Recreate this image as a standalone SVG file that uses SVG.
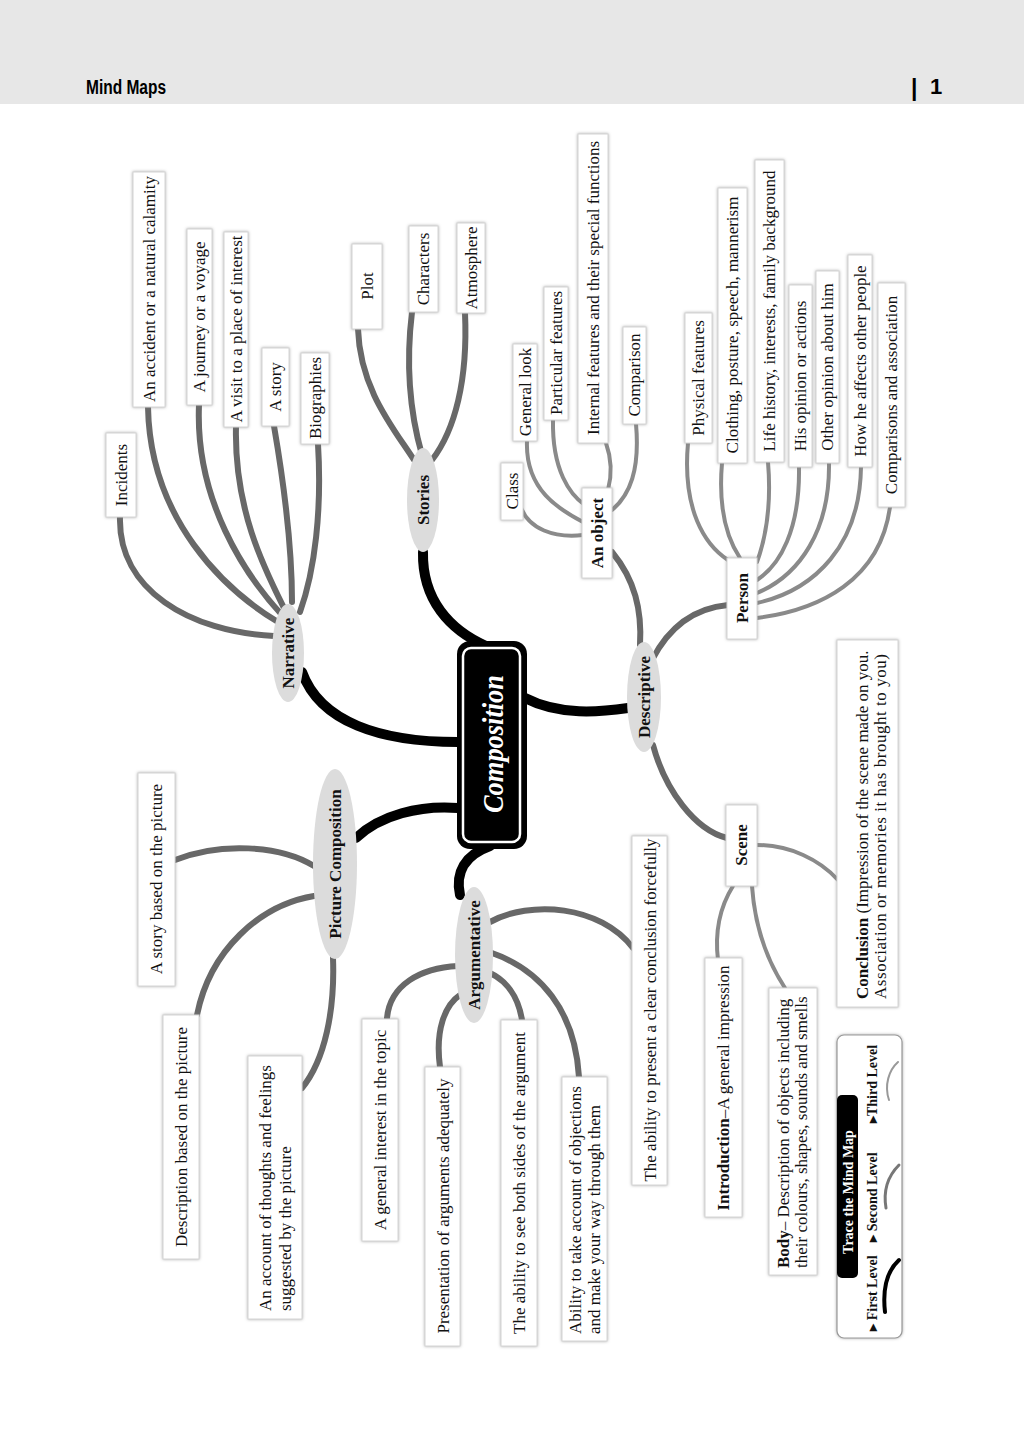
<svg xmlns="http://www.w3.org/2000/svg" width="1024" height="1440" viewBox="0 0 1024 1440">
<defs>
<filter id="sh" x="-20%" y="-10%" width="140%" height="120%">
<feDropShadow dx="0" dy="0" stdDeviation="1.6" flood-color="#888" flood-opacity="0.7"/>
</filter>
</defs>
<style>
.box{fill:#fff;stroke:#d4d4d4;stroke-width:1;filter:url(#sh)}
.ell{fill:#dcdcdc}
.t{font-family:"Liberation Serif","Times New Roman",serif;font-size:17px;fill:#111;dominant-baseline:central;text-anchor:middle}
.ts{font-family:"Liberation Serif","Times New Roman",serif;font-size:17px;fill:#111;dominant-baseline:central;text-anchor:start}
.b{font-weight:bold}
.c1{fill:none;stroke:#000;stroke-width:10;stroke-linecap:round}
.c2{fill:none;stroke:#686868;stroke-width:6;stroke-linecap:round}
.c3{fill:none;stroke:#8a8a8a;stroke-width:4;stroke-linecap:round}
.lg{font-family:"Liberation Serif","Times New Roman",serif;font-size:14px;font-weight:bold;fill:#111;dominant-baseline:central;text-anchor:middle}
</style>
<rect x="0" y="0" width="1024" height="104" fill="#e7e7e7"/>
<text x="86" y="94" font-family="Liberation Sans, Arial, sans-serif" font-size="20" font-weight="bold" textLength="80" lengthAdjust="spacingAndGlyphs">Mind Maps</text>
<text x="911" y="96" font-family="Liberation Sans, Arial, sans-serif" font-size="23" font-weight="bold">|</text>
<text x="930" y="94" font-family="Liberation Sans, Arial, sans-serif" font-size="22" font-weight="bold">1</text>

<g id="connectors">
<path class="c1" d="M302,672 C320,722 380,742 458,742"/>
<path class="c1" d="M423,552 C422,600 450,630 486,646"/>
<path class="c1" d="M525,698 C560,716 600,712 628,708"/>
<path class="c1" d="M458,808 C420,805 380,815 356,838"/>
<path class="c1" d="M490,846 C465,855 455,872 460,895"/>
<path class="c2" d="M120,517 C118,590 190,632 274,636"/>
<path class="c2" d="M148,407 C150,520 225,590 278,622"/>
<path class="c2" d="M199,405 C195,500 245,575 282,615"/>
<path class="c2" d="M236,427 C234,510 265,570 285,610"/>
<path class="c2" d="M274,426 C285,490 292,545 292,602"/>
<path class="c2" d="M318,444 C322,510 315,570 300,612"/>
<path class="c2" d="M358,329 C360,390 395,430 414,460"/>
<path class="c2" d="M412,312 C405,370 412,420 422,455"/>
<path class="c2" d="M465,313 C468,380 455,430 432,460"/>
<path class="c2" d="M612,552 C635,580 642,610 640,645"/>
<path class="c2" d="M652,660 C670,625 695,608 728,605"/>
<path class="c2" d="M653,745 C665,790 695,830 727,838"/>
<path class="c2" d="M175,860 C220,842 280,845 314,866"/>
<path class="c2" d="M197,1015 C210,950 260,905 314,896"/>
<path class="c2" d="M302,1088 C325,1060 335,1010 333,958"/>
<path class="c2" d="M387,1018 C390,985 420,968 458,966"/>
<path class="c2" d="M440,1067 C435,1030 445,1005 460,995"/>
<path class="c2" d="M522,1020 C518,995 505,980 490,973"/>
<path class="c2" d="M579,1077 C575,1010 540,970 492,953"/>
<path class="c2" d="M490,922 C530,900 600,905 633,948"/>
<path class="c3" d="M520,505 C528,530 555,538 583,535"/>
<path class="c3" d="M527,441 C525,490 560,510 583,522"/>
<path class="c3" d="M553,420 C552,470 570,495 585,505"/>
<path class="c3" d="M606,443 C612,460 612,475 608,490"/>
<path class="c3" d="M636,424 C640,470 630,495 612,510"/>
<path class="c3" d="M688,443 C682,510 705,545 728,560"/>
<path class="c3" d="M722,463 C718,510 728,540 740,558"/>
<path class="c3" d="M768,462 C772,510 765,540 757,562"/>
<path class="c3" d="M799,467 C800,530 780,565 757,580"/>
<path class="c3" d="M829,463 C830,530 800,575 757,593"/>
<path class="c3" d="M861,467 C860,545 815,590 757,603"/>
<path class="c3" d="M890,507 C880,580 820,610 757,618"/>
<path class="c3" d="M757,845 C790,845 820,860 838,880"/>
<path class="c3" d="M733,886 C718,910 715,935 718,960"/>
<path class="c3" d="M752,886 C755,930 770,965 785,988"/>
</g>

<g id="composition">
<rect x="457" y="641" width="70" height="208" rx="13" fill="#000"/>
<rect x="463" y="648" width="57" height="194" rx="8" fill="#000" stroke="#fff" stroke-width="2.5"/>
<text transform="translate(492,744) rotate(-90)" font-family="Liberation Serif, serif" font-size="30" font-style="italic" font-weight="bold" fill="#fff" text-anchor="middle" dominant-baseline="central" textLength="138" lengthAdjust="spacingAndGlyphs">Composition</text>
</g>

<g id="narrative"><ellipse class="ell" cx="288" cy="653" rx="16" ry="49"/><text class="t b" transform="translate(288,653) rotate(-90)">Narrative</text></g>
<g id="incidents"><rect class="box" x="106" y="433" width="30" height="84"/><text class="t" transform="translate(121,475) rotate(-90)">Incidents</text></g>
<g id="accident"><rect class="box" x="133" y="172" width="32" height="235"/><text class="t" transform="translate(149,289) rotate(-90)">An accident or a natural calamity</text></g>
<g id="journey"><rect class="box" x="187" y="229" width="25" height="176"/><text class="t" transform="translate(199,317) rotate(-90)">A journey or a voyage</text></g>
<g id="visit"><rect class="box" x="224" y="232" width="24" height="195"/><text class="t" transform="translate(236,329) rotate(-90)">A visit to a place of interest</text></g>
<g id="astory"><rect class="box" x="262" y="348" width="27" height="78"/><text class="t" transform="translate(275,387) rotate(-90)">A story</text></g>
<g id="biographies"><rect class="box" x="301" y="353" width="28" height="91"/><text class="t" transform="translate(315,398) rotate(-90)">Biographies</text></g>

<g id="stories"><ellipse class="ell" cx="423" cy="500" rx="16" ry="52"/><text class="t b" transform="translate(423,500) rotate(-90)">Stories</text></g>
<g id="plot"><rect class="box" x="352" y="244" width="30" height="85"/><text class="t" transform="translate(367,286) rotate(-90)">Plot</text></g>
<g id="characters"><rect class="box" x="409" y="226" width="29" height="86"/><text class="t" transform="translate(423,269) rotate(-90)">Characters</text></g>
<g id="atmosphere"><rect class="box" x="457" y="223" width="28" height="90"/><text class="t" transform="translate(471,268) rotate(-90)">Atmosphere</text></g>

<g id="descriptive"><ellipse class="ell" cx="644" cy="697" rx="17" ry="55"/><text class="t b" font-size="18" transform="translate(644,697) rotate(-90)">Descriptive</text></g>
<g id="anobject"><rect class="box" x="582" y="488" width="30" height="90"/><text class="t b" font-size="18" transform="translate(597,533) rotate(-90)">An object</text></g>
<g id="class"><rect class="box" x="501" y="463" width="22" height="57"/><text class="t" transform="translate(512,491) rotate(-90)">Class</text></g>
<g id="generallook"><rect class="box" x="513" y="344" width="24" height="97"/><text class="t" transform="translate(525,392) rotate(-90)">General look</text></g>
<g id="particular"><rect class="box" x="544" y="287" width="24" height="133"/><text class="t" transform="translate(556,353) rotate(-90)">Particular features</text></g>
<g id="internal"><rect class="box" x="578" y="134" width="30" height="309"/><text class="t" transform="translate(593,288) rotate(-90)">Internal features and their special functions</text></g>
<g id="comparison"><rect class="box" x="623" y="327" width="23" height="97"/><text class="t" transform="translate(634,375) rotate(-90)">Comparison</text></g>

<g id="person"><rect class="box" x="727" y="558" width="30" height="81"/><text class="t b" transform="translate(742,598) rotate(-90)">Person</text></g>
<g id="physical"><rect class="box" x="685" y="313" width="27" height="130"/><text class="t" transform="translate(698,378) rotate(-90)">Physical  features</text></g>
<g id="clothing"><rect class="box" x="718" y="188" width="29" height="275"/><text class="t" transform="translate(732,325) rotate(-90)">Clothing, posture, speech, mannerism</text></g>
<g id="life"><rect class="box" x="755" y="160" width="29" height="302"/><text class="t" transform="translate(769,311) rotate(-90)">Life  history, interests, family  background</text></g>
<g id="hisopinion"><rect class="box" x="789" y="285" width="23" height="182"/><text class="t" transform="translate(800,376) rotate(-90)">His  opinion  or actions</text></g>
<g id="otheropinion"><rect class="box" x="816" y="271" width="23" height="192"/><text class="t" transform="translate(827,367) rotate(-90)">Other opinion about  him</text></g>
<g id="howhe"><rect class="box" x="848" y="255" width="24" height="212"/><text class="t" transform="translate(860,361) rotate(-90)">How he affects other people</text></g>
<g id="comparisons"><rect class="box" x="878" y="283" width="27" height="224"/><text class="t" transform="translate(891,395) rotate(-90)">Comparisons and association</text></g>

<g id="scene"><rect class="box" x="726" y="805" width="31" height="81"/><text class="t b" transform="translate(741,845) rotate(-90)">Scene</text></g>
<g id="conclusion"><rect class="box" x="837" y="640" width="61" height="367"/>
<text class="ts" transform="translate(862,999) rotate(-90)"><tspan class="b">Conclusion</tspan> (Impression of the scene made on you.</text>
<text class="ts" transform="translate(880,999) rotate(-90)" textLength="345" lengthAdjust="spacing">Association or memories it has brought to you)</text></g>
<g id="introduction"><rect class="box" x="705" y="958" width="37" height="259"/><text class="t" transform="translate(723,1088) rotate(-90)"><tspan class="b">Introduction</tspan>–A general impression</text></g>
<g id="body"><rect class="box" x="769" y="988" width="48" height="287"/>
<text class="ts" transform="translate(783,1268) rotate(-90)"><tspan class="b">Body</tspan>– Description of objects including</text>
<text class="ts" transform="translate(801,1268) rotate(-90)">their colours, shapes, sounds and smells</text></g>

<g id="picturecomposition"><ellipse class="ell" cx="335" cy="864" rx="22" ry="95"/><text class="t b" font-size="18" transform="translate(335,864) rotate(-90)">Picture Composition</text></g>
<g id="storypicture"><rect class="box" x="138" y="773" width="37" height="213"/><text class="t" transform="translate(156,879) rotate(-90)">A story based on the picture</text></g>
<g id="descpicture"><rect class="box" x="163" y="1015" width="36" height="244"/><text class="t" transform="translate(181,1137) rotate(-90)">Description based on the picture</text></g>
<g id="account"><rect class="box" x="248" y="1056" width="54" height="263"/>
<text class="ts" transform="translate(265,1311) rotate(-90)">An account of thoughts and feelings</text>
<text class="ts" transform="translate(285,1311) rotate(-90)">suggested by the picture</text></g>

<g id="argumentative"><ellipse class="ell" cx="474" cy="955" rx="19" ry="68"/><text class="t b" font-size="18" transform="translate(474,955) rotate(-90)">Argumentative</text></g>
<g id="generalinterest"><rect class="box" x="362" y="1019" width="36" height="222"/><text class="t" transform="translate(380,1130) rotate(-90)">A general interest in the topic</text></g>
<g id="presentation"><rect class="box" x="425" y="1067" width="35" height="279"/><text class="t" transform="translate(443,1206) rotate(-90)">Presentation of  arguments adequately</text></g>
<g id="bothsides"><rect class="box" x="501" y="1020" width="36" height="326"/><text class="t" transform="translate(519,1183) rotate(-90)">The ability to see  both sides of the  argument</text></g>
<g id="objections"><rect class="box" x="562" y="1077" width="45" height="264"/>
<text class="ts" transform="translate(575,1334) rotate(-90)">Ability to take account  of objections</text>
<text class="ts" transform="translate(594,1334) rotate(-90)">and make your way through them</text></g>
<g id="clearconclusion"><rect class="box" x="632" y="836" width="35" height="349"/><text class="t" transform="translate(650,1010) rotate(-90)">The ability to present a clear conclusion forcefully</text></g>

<g id="legend">
<rect x="837" y="1035" width="65" height="303" rx="7" fill="#fff" stroke="#999" stroke-width="1.2" filter="url(#sh)"/>
<rect x="837" y="1095" width="21" height="183" rx="5" fill="#000"/>
<text class="lg" font-size="15" style="fill:#fff" transform="translate(848,1192) rotate(-90)">Trace the  Mind Map</text>
<text class="lg" font-size="13" transform="translate(872,1293) rotate(-90)">▸ First Level</text>
<text class="lg" font-size="13" transform="translate(872,1197) rotate(-90)">▸ Second Level</text>
<text class="lg" font-size="13" transform="translate(872,1084) rotate(-90)">▸Third Level</text>
<path d="M899,1260 C888,1270 882,1285 885,1312" fill="none" stroke="#000" stroke-width="4" stroke-linecap="round"/>
<path d="M899,1165 C889,1175 883,1190 886,1208" fill="none" stroke="#777" stroke-width="3" stroke-linecap="round"/>
<path d="M898,1062 C889,1070 884,1085 889,1100" fill="none" stroke="#999" stroke-width="2" stroke-linecap="round"/>
</g>
</svg>
